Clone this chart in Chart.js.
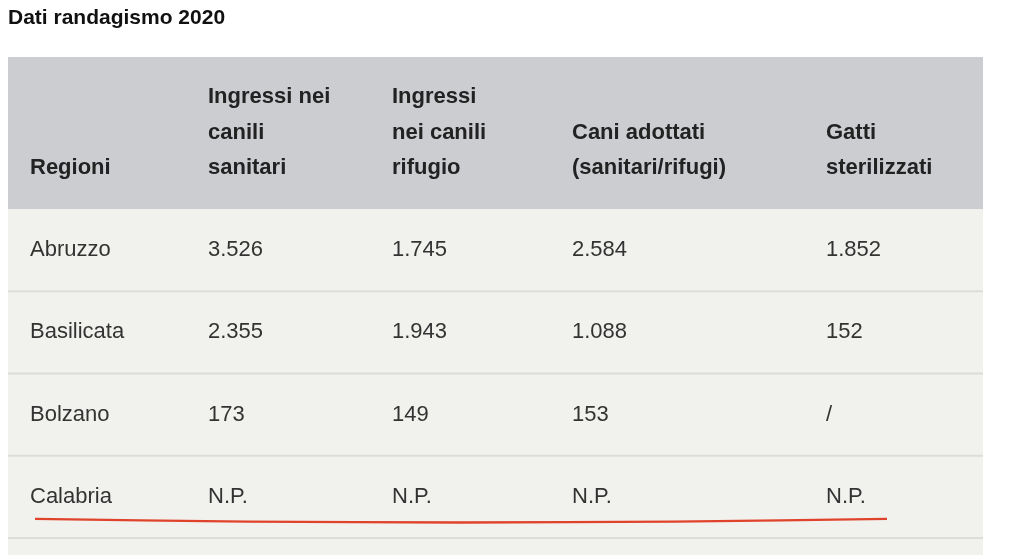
<!DOCTYPE html>
<html><head><meta charset="utf-8">
<script src="https://cdn.jsdelivr.net/npm/chart.js@4"></script>
<style>body{margin:0;background:#fff}#wrap{width:1024px;height:555px;position:relative}</style>
</head><body><div id="wrap"><canvas id="tbl"></canvas></div>
<script>
const title = 'Dati randagismo 2020';
const headers = [['Regioni'], ['Ingressi nei', 'canili', 'sanitari'], ['Ingressi', 'nei canili', 'rifugio'], ['Cani adottati', '(sanitari/rifugi)'], ['Gatti', 'sterilizzati']];
const regioni = ['Abruzzo', 'Basilicata', 'Bolzano', 'Calabria'];
const ingressiSanitari = ['3.526', '2.355', '173', 'N.P.'];
const ingressiRifugio = ['1.745', '1.943', '149', 'N.P.'];
const caniAdottati = ['2.584', '1.088', '153', 'N.P.'];
const gattiSterilizzati = ['1.852', '152', '/', 'N.P.'];

const columns = [regioni, ingressiSanitari, ingressiRifugio, caniAdottati, gattiSterilizzati];
const colX = [30, 208, 392, 572, 826];
const FONT = '"Liberation Sans", Arial, sans-serif';

const tablePlugin = {
  id: 'tablePlugin',
  beforeDraw(chart) {
    const ctx = chart.ctx, y = chart.scales.y, a = chart.chartArea;
    ctx.save();
    ctx.fillStyle = '#f1f2ee';
    ctx.fillRect(a.left, a.top, a.right - a.left, 555 - a.top);
    ctx.fillStyle = '#cbcdd1';
    ctx.fillRect(a.left, 57, a.right - a.left, a.top - 57);
    ctx.fillStyle = '#111';
    ctx.font = 'bold 21px ' + FONT;
    ctx.textBaseline = 'middle';
    ctx.fillText(title, 8, 18);
    // header
    ctx.fillStyle = '#222';
    ctx.font = 'bold 22px ' + FONT;
    headers.forEach((lines, i) => {
      lines.forEach((t, j) => {
        const ly = 168 - (lines.length - 1 - j) * 35.5;
        ctx.fillText(t, colX[i], ly);
      });
    });
    // rows
    ctx.font = '22px ' + FONT;
    ctx.fillStyle = '#333';
    const step = y.getPixelForValue(1) - y.getPixelForValue(0);
    regioni.forEach((r, ri) => {
      const py = y.getPixelForValue(ri);
      columns.forEach((col, ci) => ctx.fillText(col[ri], colX[ci], py));
      ctx.strokeStyle = '#dcdcd8';
      ctx.lineWidth = 2;
      ctx.beginPath();
      ctx.moveTo(a.left, py + step / 2);
      ctx.lineTo(a.right, py + step / 2);
      ctx.stroke();
    });
    // red underline
    const uy = y.getPixelForValue(3) + 23;
    ctx.strokeStyle = '#e0432b';
    ctx.lineWidth = 2.5;
    ctx.beginPath();
    ctx.moveTo(35, uy - 1);
    ctx.quadraticCurveTo(460, uy + 6, 887, uy - 1);
    ctx.stroke();
    ctx.restore();
  }
};

new Chart(document.getElementById('tbl'), {
  type: 'bar',
  data: { labels: regioni, datasets: [{ data: regioni.map(() => 0), backgroundColor: 'transparent' }] },
  options: {
    indexAxis: 'y',
    responsive: true,
    maintainAspectRatio: false,
    animation: false,
    layout: { padding: { top: 209, left: 8, right: 41, bottom: 17 } },
    plugins: { legend: { display: false }, tooltip: { enabled: false } },
    scales: { x: { display: false }, y: { display: false } }
  },
  plugins: [tablePlugin]
});
</script></body></html>
